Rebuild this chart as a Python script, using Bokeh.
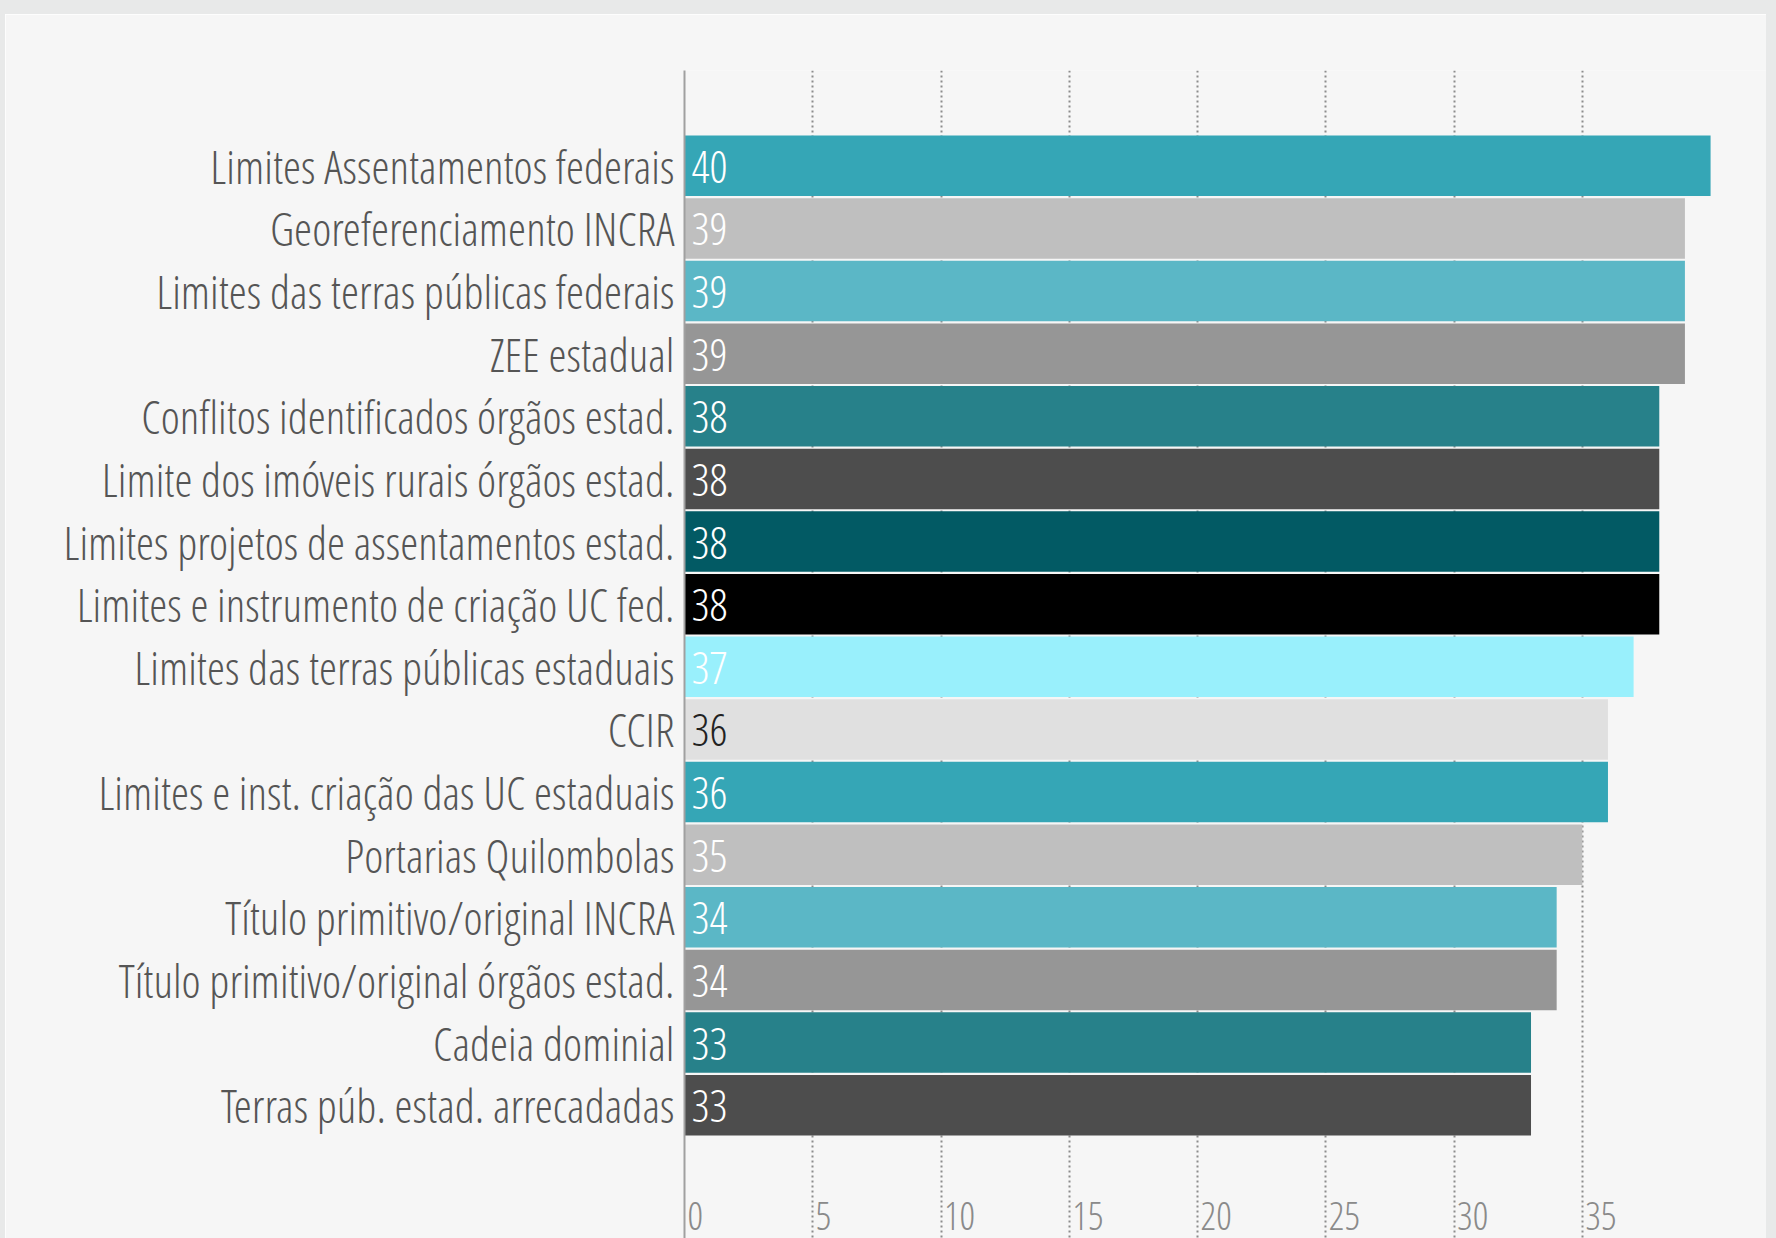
from bokeh.plotting import figure
from bokeh.models import Range1d, FixedTicker, ColumnDataSource, Div
from bokeh.layouts import column, row
from bokeh.core.properties import value
from bokeh.embed import file_html
from bokeh.resources import INLINE

# ---- data ----
categories = [
    "Limites Assentamentos federais",
    "Georeferenciamento INCRA",
    "Limites das terras públicas federais",
    "ZEE estadual",
    "Conflitos identificados órgãos estad.",
    "Limite dos imóveis rurais órgãos estad.",
    "Limites projetos de assentamentos estad.",
    "Limites e instrumento de criação UC fed.",
    "Limites das terras públicas estaduais",
    "CCIR",
    "Limites e inst. criação das UC estaduais",
    "Portarias Quilombolas",
    "Título primitivo/original INCRA",
    "Título primitivo/original órgãos estad.",
    "Cadeia dominial",
    "Terras púb. estad. arrecadadas",
]
values = [40, 39, 39, 39, 38, 38, 38, 38, 37, 36, 36, 35, 34, 34, 33, 33]
bar_colors = ["#35a6b6", "#bfbfbf", "#5bb7c6", "#969696", "#27818a", "#4d4d4d",
              "#025a64", "#000000", "#99f0fc", "#e0e0e0", "#35a6b6", "#bfbfbf",
              "#5bb7c6", "#969696", "#27818a", "#4d4d4d"]
value_text_colors = ["#ffffff"] * 9 + ["#222222"] + ["#ffffff"] * 6
x_ticks = [0, 5, 10, 15, 20, 25, 30, 35]
x_tick_labels = [str(t) for t in x_ticks]

FONT = "Open Sans Condensed Light"
OUTER = "#e8e9e9"
PANEL = "#f6f6f6"

idx = list(range(len(categories)))
src = ColumnDataSource(dict(y=idx, v=values, c=bar_colors, tc=value_text_colors,
                            t=[str(v) for v in values]))

p = figure(width=1761, height=1224, output_backend="svg", toolbar_location=None,
           x_range=Range1d(0, 42.18), y_range=Range1d(17.129, -1.522),
           min_border_left=679, min_border_top=56, min_border_bottom=0,
           min_border_right=0)
p.background_fill_color = PANEL
p.border_fill_color = PANEL
p.outline_line_color = None

p.hbar(y="y", right="v", left=0, height=0.965, fill_color="c", line_color=None,
       source=src)

p.text(x=0, y="y", text="t", text_color="tc", x_offset=7, y_offset=1,
       text_baseline="middle", text_align="left", text_font=value(FONT),
       text_font_size="45px", source=src)

tsrc = ColumnDataSource(dict(x=x_ticks, t=x_tick_labels,
                             y=[p.y_range.start] * len(x_ticks)))
p.text(x="x", y="y", text="t", x_offset=3, y_offset=-9, text_baseline="bottom",
       text_align="left", text_color="#8a8a8a", text_font=value(FONT),
       text_font_size="39px", source=tsrc)

p.xaxis.visible = False
p.xgrid.ticker = FixedTicker(ticks=x_ticks[1:])
p.xgrid.grid_line_color = "#8c8c8c"
p.xgrid.grid_line_dash = "2 3"
p.xgrid.grid_line_width = 2
p.ygrid.grid_line_color = None

ax = p.yaxis[0]
ax.ticker = FixedTicker(ticks=idx)
ax.major_label_overrides = {i: c for i, c in zip(idx, categories)}
ax.major_label_text_font = FONT
ax.major_label_text_font_size = "46px"
ax.major_label_text_color = "#555555"
ax.major_label_standoff = 4
ax.major_tick_line_color = None
ax.minor_tick_line_color = None
ax.axis_line_color = "#a0a0a0"
ax.axis_line_width = 2

top_strip = Div(text="", width=1776, height=14, margin=0,
                styles={"background-color": OUTER})
left_strip = Div(text="", width=5, height=1224, margin=0,
                 styles={"background-color": OUTER})
right_strip = Div(text="", width=10, height=1224, margin=0,
                  styles={"background-color": OUTER})
page = column(top_strip, row(left_strip, p, right_strip, spacing=0), spacing=0)

open("out.html", "w").write(file_html(page, INLINE))
